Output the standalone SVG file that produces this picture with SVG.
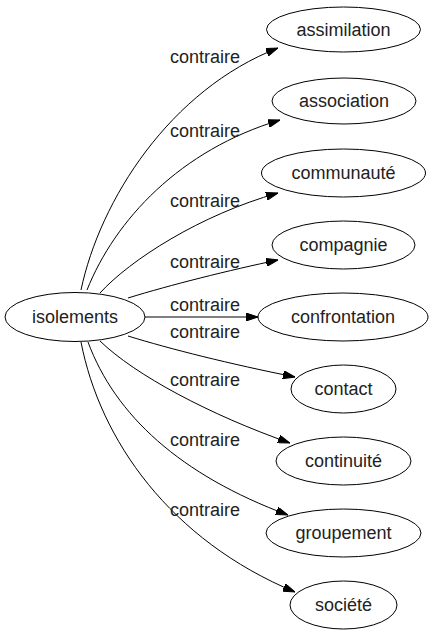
<svg xmlns="http://www.w3.org/2000/svg" width="433" height="635" viewBox="0 0 433 635">
<style>
text{font-family:"Liberation Sans",Arial,sans-serif;font-size:18px;fill:#222;text-anchor:middle}
ellipse{fill:#fff;stroke:#000;stroke-width:1}
.e path{fill:none;stroke:#000;stroke-width:1;marker-end:url(#ah)}
</style>
<defs>
<marker id="ah" viewBox="0 0 12 8" refX="12" refY="4" markerWidth="12" markerHeight="8" markerUnits="userSpaceOnUse" orient="auto">
<path d="M0,0 L12,4 L0,8 z" fill="#000" stroke="#000"/>
</marker>
</defs>
<rect width="433" height="635" fill="#fff"/>
<g class="e" id="edges">
<path d="M81,290 C100,200 170,90 278,48"/>
<path d="M87,290 C115,220 180,150 280,120"/>
<path d="M100,293 C130,260 200,215 278,193"/>
<path d="M128,298 C170,285 230,270 278,260"/>
<path d="M145,317 L258,317"/>
<path d="M128,336 C170,349 230,364 295,377"/>
<path d="M100,341 C135,375 210,415 290,443"/>
<path d="M88,342 C115,415 180,475 288,515"/>
<path d="M81,342 C100,440 170,540 295,592"/>
<text x="205" y="63">contraire</text>
<text x="205" y="137">contraire</text>
<text x="205" y="207">contraire</text>
<text x="205" y="268">contraire</text>
<text x="205" y="311">contraire</text>
<text x="205" y="338">contraire</text>
<text x="205" y="386">contraire</text>
<text x="205" y="446">contraire</text>
<text x="205" y="516">contraire</text>
</g>
<g id="isolements"><ellipse cx="75" cy="317" rx="70" ry="24.5"/><text x="75" y="323">isolements</text></g>
<g id="assimilation"><ellipse cx="343.5" cy="29.5" rx="77" ry="22.5"/><text x="343.5" y="35.5">assimilation</text></g>
<g id="association"><ellipse cx="344" cy="101" rx="72" ry="23"/><text x="344" y="107">association</text></g>
<g id="communaute"><ellipse cx="343.5" cy="173" rx="82" ry="24"/><text x="343.5" y="179">communauté</text></g>
<g id="compagnie"><ellipse cx="343.5" cy="245" rx="71.5" ry="24"/><text x="343.5" y="251">compagnie</text></g>
<g id="confrontation"><ellipse cx="343" cy="317" rx="85" ry="24"/><text x="343" y="323">confrontation</text></g>
<g id="contact"><ellipse cx="343.5" cy="389" rx="52.5" ry="24"/><text x="343.5" y="395">contact</text></g>
<g id="continuite"><ellipse cx="343.5" cy="461" rx="67.5" ry="24"/><text x="343.5" y="467">continuité</text></g>
<g id="groupement"><ellipse cx="343.5" cy="533" rx="77.5" ry="24"/><text x="343.5" y="539">groupement</text></g>
<g id="societe"><ellipse cx="343.5" cy="605" rx="53.5" ry="24"/><text x="343.5" y="611">société</text></g>
</svg>
